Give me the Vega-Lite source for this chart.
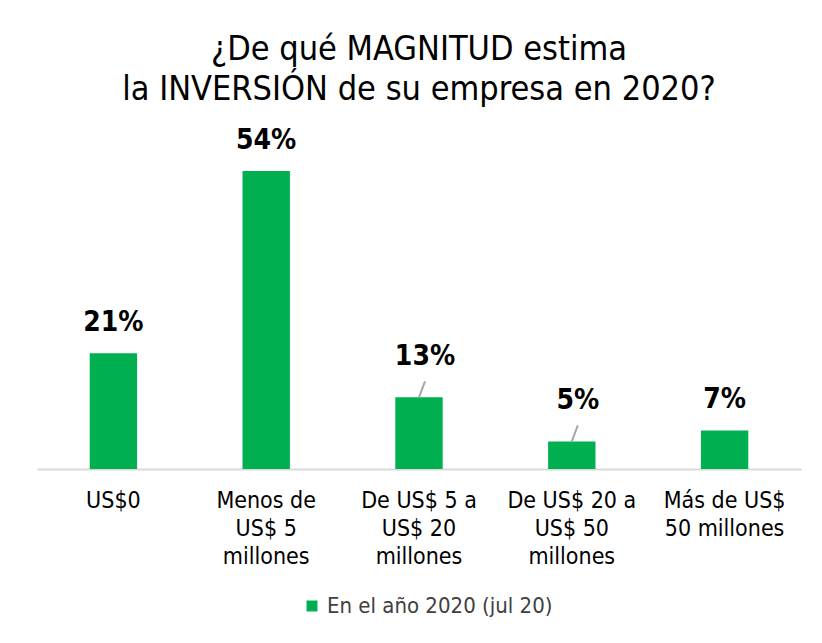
{
  "$schema": "https://vega.github.io/schema/vega-lite/v6.json",
  "width": 764,
  "height": 331,
  "autosize": {"type": "none"},
  "padding": {"left": 37, "top": 138, "right": 21, "bottom": 174},
  "background": "white",
  "title": {
    "text": ["¿De qué MAGNITUD estima", "la INVERSIÓN de su empresa en 2020?"],
    "font": "DejaVu Sans Condensed, Roboto",
    "fontSize": 34,
    "fontWeight": "normal",
    "color": "#000000",
    "lineHeight": 40,
    "anchor": "middle",
    "offset": 20
  },
  "data": {
    "values": [
      {"categoria": "US$0", "valor": 0.21, "serie": "En el año 2020 (jul 20)", "desplazada": false},
      {"categoria": "Menos de US$ 5 millones", "valor": 0.54, "serie": "En el año 2020 (jul 20)", "desplazada": false},
      {"categoria": "De US$ 5 a US$ 20 millones", "valor": 0.13, "serie": "En el año 2020 (jul 20)", "desplazada": true},
      {"categoria": "De US$ 20 a US$ 50 millones", "valor": 0.05, "serie": "En el año 2020 (jul 20)", "desplazada": true},
      {"categoria": "Más de US$ 50 millones", "valor": 0.07, "serie": "En el año 2020 (jul 20)", "desplazada": false}
    ]
  },
  "encoding": {
    "x": {
      "field": "categoria",
      "type": "nominal",
      "sort": null,
      "scale": {"paddingInner": 0.69, "paddingOuter": 0.345},
      "axis": {
        "title": null,
        "labelAngle": 0,
        "ticks": false,
        "domainColor": "#d9d9d9",
        "domainWidth": 2,
        "labelFont": "DejaVu Sans Condensed, Roboto",
        "labelFontSize": 23,
        "labelColor": "#000000",
        "labelLineHeight": 28,
        "labelPadding": 20,
        "labelBaseline": "top",
        "labelLimit": 0,
        "labelExpr": "datum.value == 'Menos de US$ 5 millones' ? ['Menos de', 'US$ 5', 'millones'] : datum.value == 'De US$ 5 a US$ 20 millones' ? ['De US$ 5 a', 'US$ 20', 'millones'] : datum.value == 'De US$ 20 a US$ 50 millones' ? ['De US$ 20 a', 'US$ 50', 'millones'] : datum.value == 'Más de US$ 50 millones' ? ['Más de US$', '50 millones'] : datum.value"
      }
    },
    "y": {
      "field": "valor",
      "type": "quantitative",
      "scale": {"domain": [0, 0.6]},
      "axis": null
    }
  },
  "layer": [
    {
      "mark": {"type": "bar", "color": "#00B050"},
      "encoding": {
        "color": {
          "field": "serie",
          "type": "nominal",
          "scale": {"range": ["#00B050"]},
          "legend": {
            "title": null,
            "orient": "none",
            "legendX": 264,
            "legendY": 457,
            "direction": "horizontal",
            "symbolType": "square",
            "symbolSize": 120,
            "symbolStrokeWidth": 0,
            "labelFont": "DejaVu Sans Condensed, Roboto",
            "labelFontSize": 22,
            "labelColor": "#404040",
            "labelLimit": 0,
            "labelOffset": 4
          }
        }
      }
    },
    {
      "transform": [{"filter": "!datum.desplazada"}],
      "mark": {"type": "text", "baseline": "middle", "dy": -30, "font": "DejaVu Sans Condensed, Roboto", "fontSize": 28, "fontWeight": "bold", "color": "#000000"},
      "encoding": {"text": {"field": "valor", "type": "quantitative", "format": ".0%"}}
    },
    {
      "transform": [{"filter": "datum.desplazada"}],
      "mark": {"type": "text", "baseline": "middle", "dy": -40, "dx": 6, "font": "DejaVu Sans Condensed, Roboto", "fontSize": 28, "fontWeight": "bold", "color": "#000000"},
      "encoding": {"text": {"field": "valor", "type": "quantitative", "format": ".0%"}}
    },
    {
      "transform": [{"filter": "datum.desplazada"}],
      "mark": {"type": "rule", "color": "#a6a6a6", "strokeWidth": 2, "x2Offset": 6, "y2Offset": -16},
      "encoding": {
        "x2": {"field": "categoria"},
        "y2": {"field": "valor"}
      }
    }
  ],
  "config": {
    "view": {"stroke": null}
  }
}
